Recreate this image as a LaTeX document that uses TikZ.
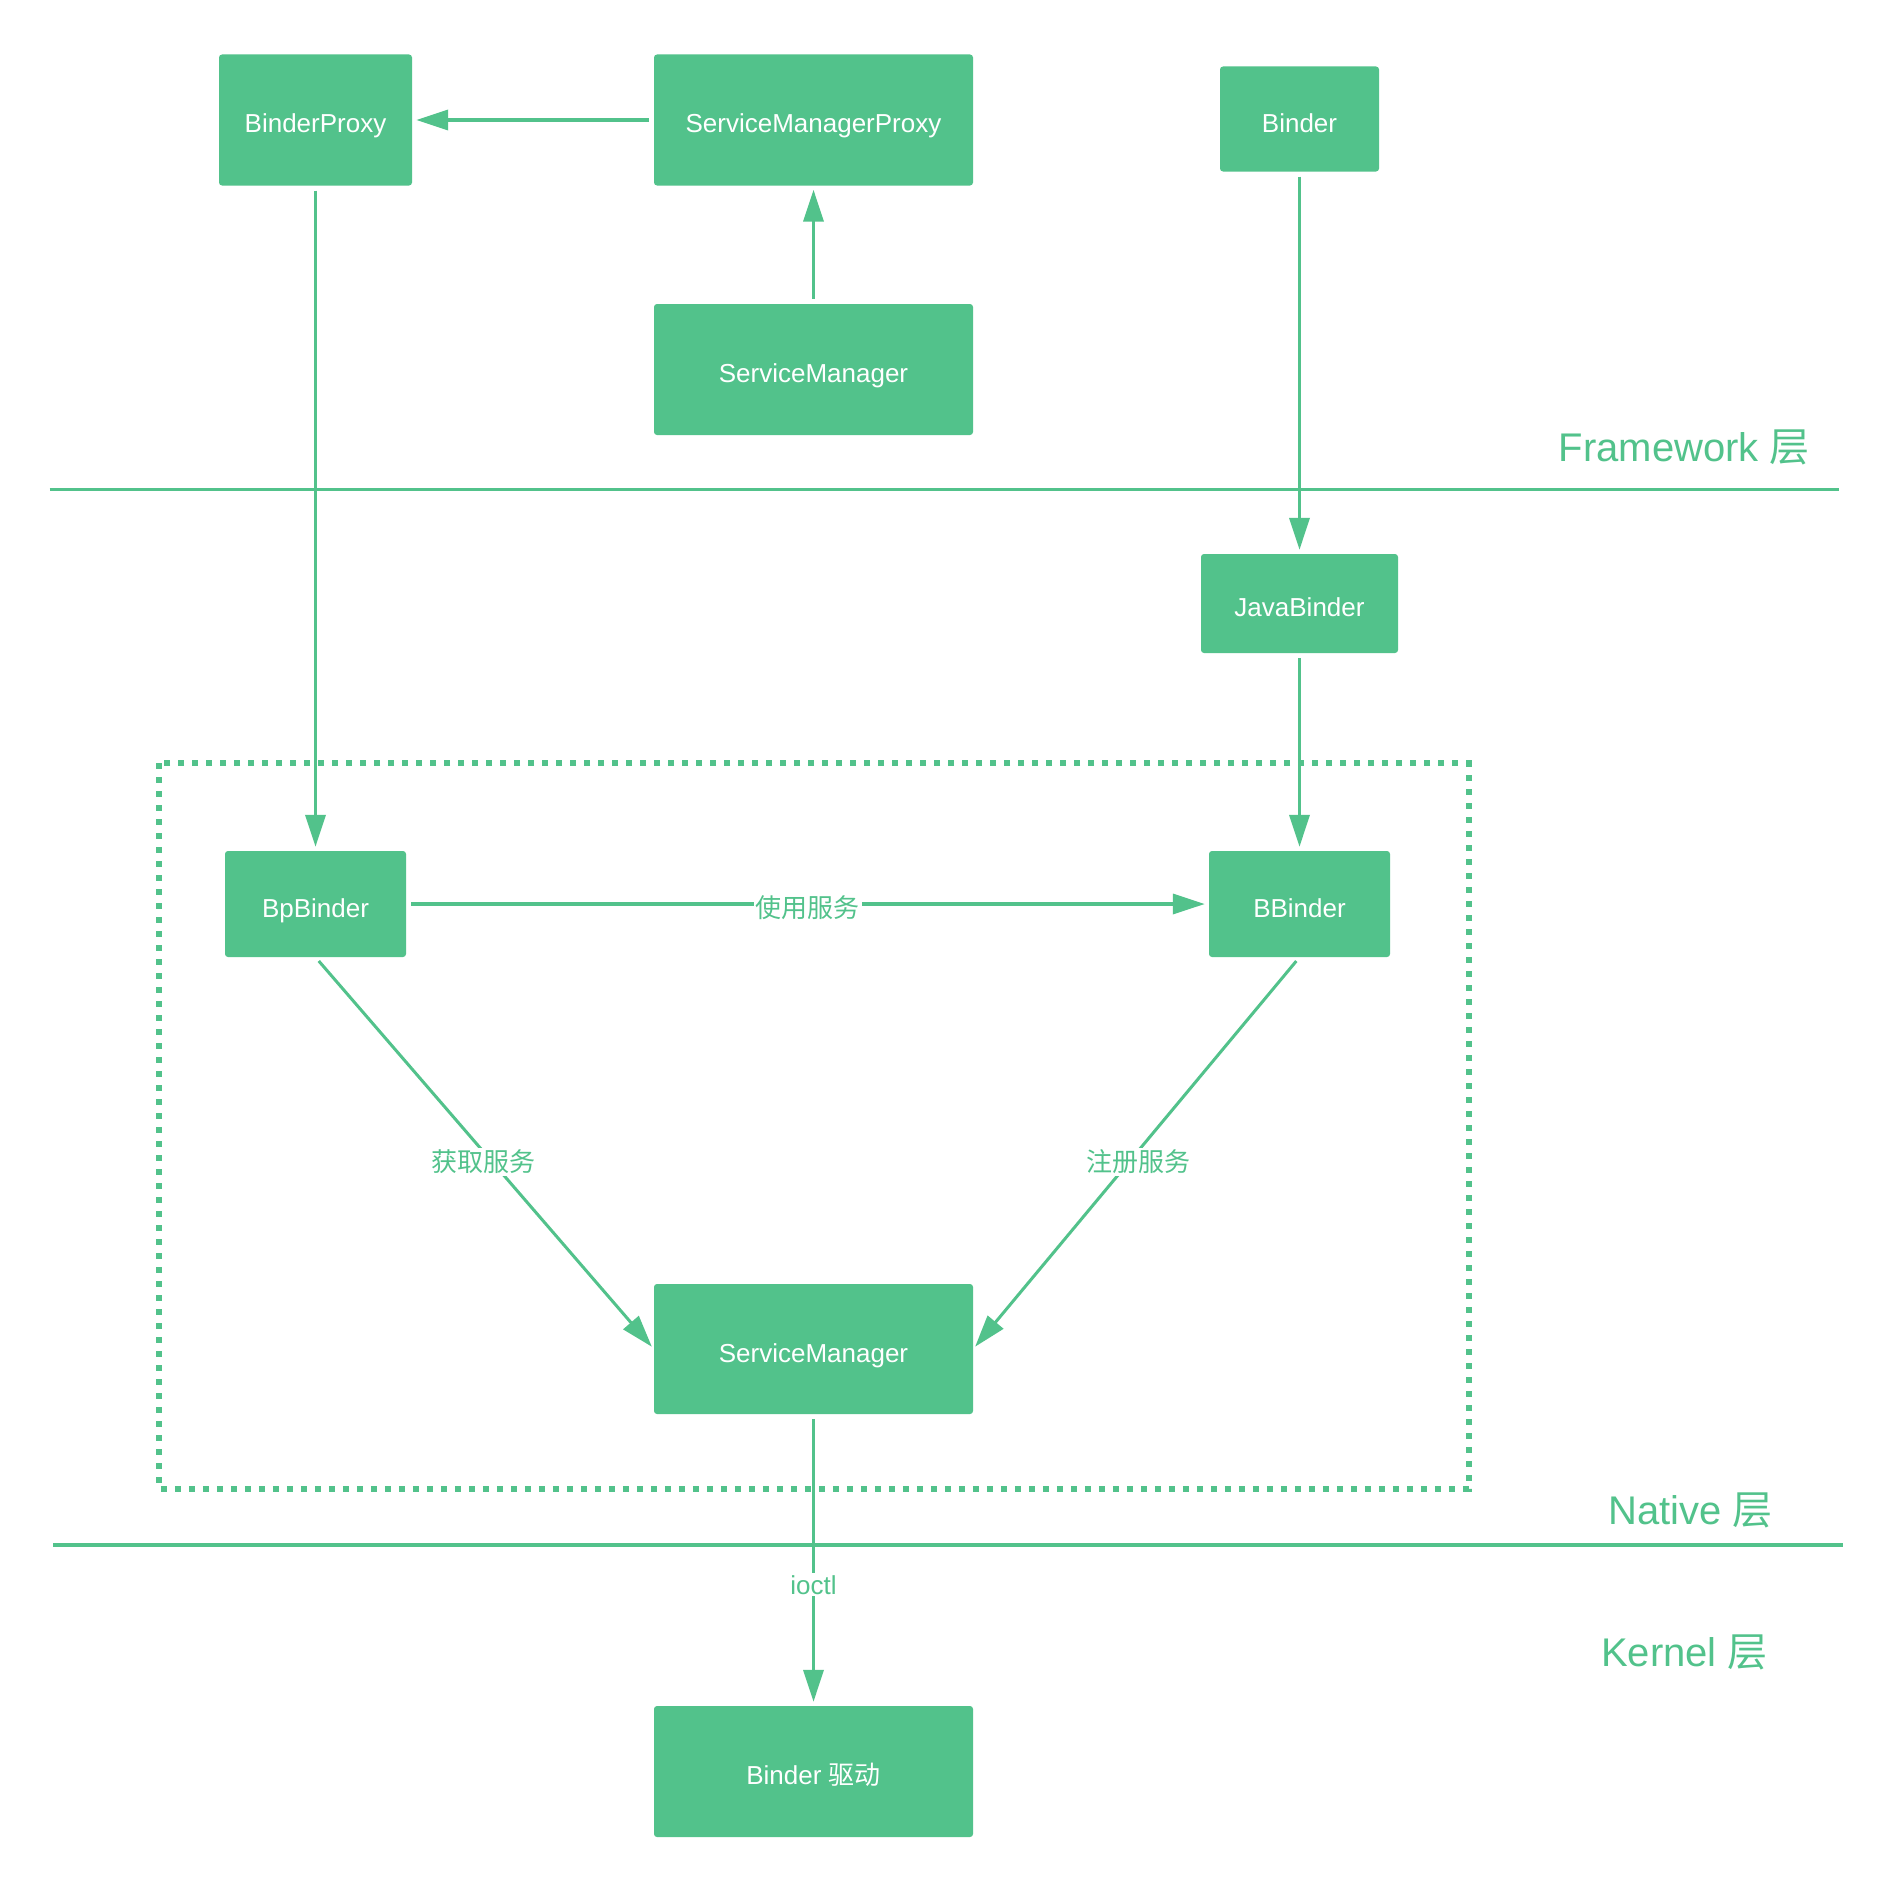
\documentclass[tikz,border=0pt]{standalone}
\usepackage{fontspec}
\setmainfont{Liberation Sans}
\newfontfamily\cjk{Noto Sans CJK SC}
\usetikzlibrary{arrows.meta}
\definecolor{gr}{HTML}{52C28B}
\begin{document}
\begin{tikzpicture}[x=1pt,y=-1pt,
  box/.style={fill=gr,draw=none,rounded corners=3pt,text=white,inner sep=0pt,
    text height=26pt,text depth=0pt,font=\fontsize{26}{30}\selectfont},
  conn/.style={draw=gr,line width=3.5pt,-{Triangle[length=32pt,width=20pt]},shorten <=5pt,shorten >=4pt},
  diag/.style={draw=gr,line width=3pt,-{Triangle[length=32pt,width=20pt]},shorten <=5pt,shorten >=3pt},
  lbl/.style={fill=white,text=gr,inner sep=2pt,font=\fontsize{26}{30}\selectfont\cjk},
  layer/.style={text=gr,anchor=east,inner sep=0pt,font=\fontsize{40}{45}\selectfont},
  sep/.style={draw=gr,line width=3.5pt}
]
\useasboundingbox (0,0) rectangle (1900,1892);
\fill[white] (0,0) rectangle (1900,1892);

% nodes
\node[box,minimum width=193pt,minimum height=131pt] (bp) at (315.5,120) {BinderProxy};
\node[box,minimum width=319pt,minimum height=131pt] (smp) at (813.5,120) {ServiceManagerProxy};
\node[box,minimum width=159pt,minimum height=105pt] (binder) at (1299.5,119) {Binder};
\node[box,minimum width=319pt,minimum height=131pt] (smtop) at (813.5,369.5) {ServiceManager};
\node[box,minimum width=197pt,minimum height=99pt] (jb) at (1299.5,603.5) {JavaBinder};
\node[box,minimum width=181pt,minimum height=106pt] (bpb) at (315.5,904) {BpBinder};
\node[box,minimum width=181pt,minimum height=106pt] (bb) at (1299.5,904) {BBinder};
\node[box,minimum width=319pt,minimum height=130pt] (sm) at (813.5,1349) {ServiceManager};
\node[box,minimum width=319pt,minimum height=131pt] (drv) at (813.5,1771.5) {Binder {\cjk 驱动}};

% dotted frame
\draw[gr,line width=6pt,dash pattern=on 6pt off 8pt] (158.7,763.4) rectangle (1468.6,1489.2);

% layer separators
\coordinate (f1) at (49.7,489.5);
\coordinate (f2) at (1839,489.5);
\coordinate (n1) at (53,1545);
\coordinate (n2) at (1843,1545);
\draw[sep] (f1) -- (f2);
\draw[sep] (n1) -- (n2);

\node[layer] (lf) at (1810,447) {Framework {\cjk 层}};
\node[layer] (ln) at (1773,1510) {Native {\cjk 层}};
\node[layer] (lk) at (1768,1652) {Kernel {\cjk 层}};

% connectors
\draw[conn] (smp.west) -- (bp.east);
\draw[conn] (smtop.north) -- (smp.south);
\draw[conn] (bp.south) -- (bpb.north);
\draw[conn] (binder.south) -- (jb.north);
\draw[conn] (jb.south) -- (bb.north);
\draw[conn] (bpb.east) -- node[lbl,pos=0.5,yshift=-4pt] (l1) {使用服务} (bb.west);
\draw[diag] (bpb.south) -- node[lbl,pos=0.51,xshift=-5pt,yshift=-5pt] (l2) {获取服务} (sm.west);
\draw[diag] (bb.south) -- node[lbl,pos=0.51,xshift=5pt,yshift=-5pt] (l3) {注册服务} (sm.east);
\draw[conn] (sm.south) -- node[lbl,pos=0.585,font=\fontsize{26}{30}\selectfont] (l4) {ioctl} (drv.north);
\end{tikzpicture}
\end{document}
